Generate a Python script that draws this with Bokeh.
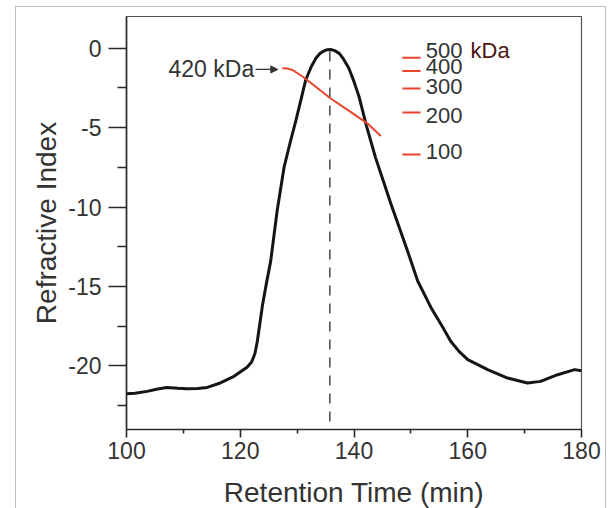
from bokeh.plotting import figure
from bokeh.models import (FixedTicker, CustomJSTickFormatter, Arrow, NormalHead,
                          InlineStyleSheet)
from bokeh.core.properties import value
from bokeh.embed import file_html
from bokeh.resources import INLINE

# ---- data ----
time_min = [100.0, 101.5, 103.6, 105.5, 107.1, 109.0, 110.7, 112.5, 114.2, 116.5,
            118.9, 121.2, 122.0, 122.6, 123.0, 123.5, 123.9, 124.6, 125.35, 126.5, 127.7,
            128.8, 129.8, 130.7, 131.5, 132.5, 133.3, 134.0, 134.7, 135.3, 135.9, 136.6,
            137.4, 138.2, 139.1, 140.0, 140.9,
            142.2, 143.8, 145.2, 146.5, 149.4, 151.2, 153.5, 155.5, 157.0, 158.5, 160.0,
            163.5, 167.0, 170.5, 172.8, 175.8, 178.8, 180.0]
ri_values = [-21.75, -21.72, -21.6, -21.45, -21.35, -21.4, -21.43, -21.42, -21.35, -21.07,
             -20.65, -20.08, -19.75, -19.2, -18.44, -17.2, -16.2, -14.8, -13.4, -10.2, -7.5,
             -5.9, -4.53, -3.2, -2.0, -1.15, -0.63, -0.33, -0.17, -0.09, -0.08, -0.15,
             -0.32, -0.7, -1.26, -2.1, -3.06,
             -4.9, -6.9, -8.4, -9.8, -12.75, -14.65, -16.3, -17.5, -18.44, -19.1, -19.6,
             -20.23, -20.76, -21.07, -20.97, -20.55, -20.23, -20.3]

mw_time = [127.4, 128.3, 129.2, 131.2, 135.9, 139.4, 142.4, 144.7]
mw_curve = [-1.26, -1.28, -1.37, -1.84, -3.16, -4.0, -4.74, -5.52]

peak_time = 135.75
peak_top = -0.2

std_labels = ["500", "400", "300", "200", "100"]
std_marker_y = [-0.59, -1.43, -2.53, -4.05, -6.68]
std_label_y = [-0.16, -1.14, -2.38, -4.22, -6.48]

x_major = [100, 120, 140, 160, 180]
x_minor = [110, 130, 150, 170]
y_major = [-20, -15, -10, -5, 0]
y_minor = [-22.5, -17.5, -12.5, -7.5, -2.5]

FONT = "Liberation Sans"
TXT = "#333333"
RED = "#e8442e"

p = figure(frame_width=455, frame_height=413,
           x_range=(100, 180), y_range=(-24, 2),
           output_backend="svg", toolbar_location=None,
           min_border_left=126, min_border_right=28, min_border_top=16,
           min_border_bottom=70)

p.background_fill_color = "white"
p.border_fill_color = "white"
p.outline_line_color = "#555555"
p.outline_line_width = 1.2
p.xgrid.visible = False
p.ygrid.visible = False

# light outer panel border (page decoration)
p.stylesheets = [InlineStyleSheet(css=(
    ":host { position: relative; }"
    ":host::after { content: ''; position: absolute; left: 15px; top: 6px; "
    "width: 589px; bottom: 0px; border: 1.5px solid #bdbdbd; border-bottom: none; "
    "pointer-events: none; z-index: 10; }"))]

fmt = CustomJSTickFormatter(code="return String(tick);")
for ax in (p.xaxis[0], p.yaxis[0]):
    ax.formatter = fmt
    ax.axis_line_color = "#2a2a2a"
    ax.axis_line_width = 1.6
    ax.major_tick_line_color = "#2a2a2a"
    ax.major_tick_line_width = 1.6
    ax.minor_tick_line_color = "#2a2a2a"
    ax.minor_tick_line_width = 1.6
    ax.major_tick_in = 0
    ax.minor_tick_in = 0
    ax.major_label_text_font = FONT
    ax.major_label_text_font_size = "23px"
    ax.major_label_text_color = TXT
    ax.axis_label_text_font = FONT
    ax.axis_label_text_font_size = "28px"
    ax.axis_label_text_font_style = "normal"
    ax.axis_label_text_color = TXT

p.xaxis.ticker = FixedTicker(ticks=x_major, minor_ticks=x_minor)
p.yaxis.ticker = FixedTicker(ticks=y_major, minor_ticks=y_minor)
p.xaxis.major_tick_out = 8
p.xaxis.minor_tick_out = 4
p.yaxis.major_tick_out = 18
p.yaxis.minor_tick_out = 9
p.xaxis.major_label_standoff = 4
p.yaxis.major_label_standoff = 7
p.xaxis.axis_label = "Retention Time (min)"
p.yaxis.axis_label = "Refractive Index"
p.xaxis.axis_label_standoff = 15
p.yaxis.axis_label_standoff = 3

# dashed peak line
p.segment(x0=[peak_time], y0=[peak_top], x1=[peak_time], y1=[-24],
          line_color="#555555", line_width=1.6, line_dash="10 8")

# RI trace
p.line(time_min, ri_values, line_color="#151515", line_width=3, line_join="round")

# molecular weight curve
p.line(mw_time, mw_curve, line_color=RED, line_width=2)

# standards markers
p.segment(x0=[148.5] * len(std_marker_y), y0=std_marker_y,
          x1=[151.7] * len(std_marker_y), y1=std_marker_y,
          line_color=RED, line_width=2)
p.text(x=[152.6] * len(std_labels), y=std_label_y, text=std_labels,
       text_font=value(FONT), text_font_size="22px", text_color=TXT,
       text_align="left", text_baseline="middle")
p.text(x=[160.5], y=[std_label_y[0]], text=["kDa"],
       text_font=value(FONT), text_font_size="22px", text_color="#4a1512",
       text_align="left", text_baseline="middle")

# 420 kDa annotation
p.text(x=[122.45], y=[-1.33], text=["420 kDa"],
       text_font=value(FONT), text_font_size="23px", text_color=TXT,
       text_align="right", text_baseline="middle")
p.add_layout(Arrow(end=NormalHead(size=7, fill_color=TXT, line_color=TXT),
                   x_start=122.7, y_start=-1.33, x_end=126.6, y_end=-1.33,
                   line_color=TXT, line_width=1.3))

open("out.html", "w").write(file_html(p, INLINE))
